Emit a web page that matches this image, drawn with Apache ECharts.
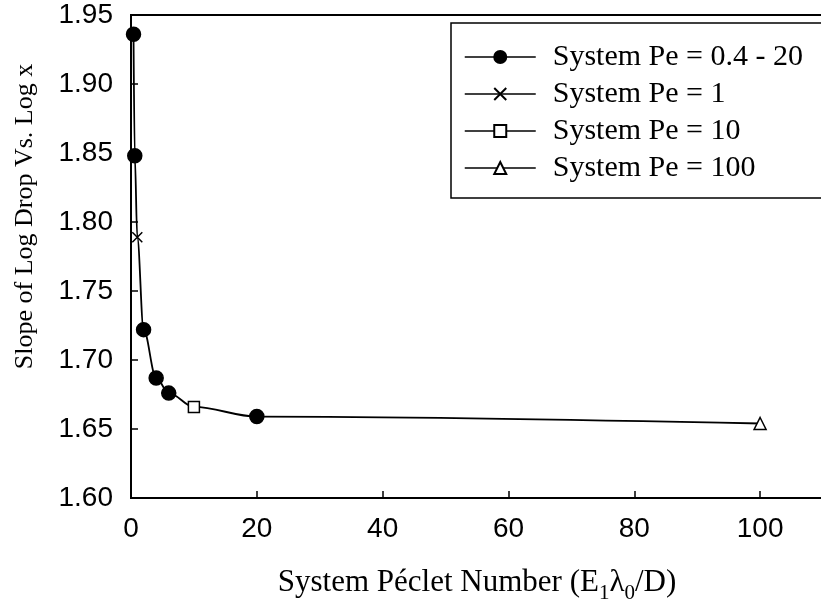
<!DOCTYPE html>
<html>
<head>
<meta charset="utf-8">
<title>Slope vs System Péclet Number</title>
<script src="https://cdn.jsdelivr.net/npm/echarts@6/dist/echarts.min.js"></script>
<style>
  html, body { margin: 0; padding: 0; background: #fff; overflow: hidden; }
  /* canvas runs past the window edge so the plot frame and legend box open to the right */
  #chart { width: 900px; height: 609px; }
</style>
</head>
<body>
<div id="chart"></div>
<script>
// Measured slopes, grouped by the run they came from: [Péclet number, slope]
const peRange = [[0.4, 1.936], [0.6, 1.848], [2, 1.722], [4, 1.687], [6, 1.676], [20, 1.659]];
const peOne = [[1, 1.789]];
const peTen = [[10, 1.666]];
const peHundred = [[100, 1.654]];

const seriesNames = ['System Pe = 0.4 - 20', 'System Pe = 1', 'System Pe = 10', 'System Pe = 100'];
const yTicks = [1.60, 1.65, 1.70, 1.75, 1.80, 1.85, 1.90, 1.95];
const xTicks = [0, 20, 40, 60, 80, 100];

// Fitted curve through every point, ordered by Péclet number
const curve = [].concat(peRange, peOne, peTen, peHundred).sort((a, b) => a[0] - b[0]);

const SERIF = '"Liberation Serif", "Times New Roman", serif';
const SANS = '"Liberation Sans", Arial, sans-serif';

function markerSeries(name, data, symbol, size, fill) {
  return {
    name: name,
    type: 'line',
    data: data,
    symbol: symbol,
    symbolSize: size,
    showSymbol: true,
    lineStyle: { width: 0, opacity: 0 },
    itemStyle: { color: fill, borderColor: '#000', borderWidth: 1.5 },
    emphasis: { disabled: true },
    z: 5
  };
}

const chart = echarts.init(document.getElementById('chart'), null, { renderer: 'canvas' });
chart.setOption({
  animation: false,
  backgroundColor: '#fff',
  grid: {
    left: 131, top: 15, width: 692, height: 484,
    show: true, borderColor: '#000', borderWidth: 2, backgroundColor: 'transparent'
  },
  legend: {
    data: seriesNames,
    orient: 'vertical',
    left: 451, top: 23,
    padding: [19, 40, 15, 13],
    itemGap: 7,
    itemWidth: 71,
    itemHeight: 15,
    borderColor: '#000',
    borderWidth: 1.5,
    backgroundColor: '#fff',
    lineStyle: { color: '#000', width: 1.5, opacity: 1 },
    textStyle: { fontFamily: SERIF, fontSize: 30, color: '#000', padding: [0, 0, 0, 12], lineHeight: 30 }
  },
  xAxis: {
    type: 'value',
    min: 0, max: 110, interval: 20,
    name: '{a|System Péclet Number (E}{s|1}{a|λ}{s|0}{a|/D)}',
    nameLocation: 'middle',
    nameGap: 74,
    nameTextStyle: {
      rich: {
        a: { fontFamily: SERIF, fontSize: 31, color: '#000', verticalAlign: 'bottom', padding: [0, 0, 6, 0], lineHeight: 32 },
        s: { fontFamily: SERIF, fontSize: 21, color: '#000', verticalAlign: 'bottom', lineHeight: 22 }
      }
    },
    axisLine: { lineStyle: { color: '#000', width: 2 } },
    axisTick: { inside: true, length: 7, lineStyle: { color: '#000', width: 1.5 } },
    axisLabel: {
      fontFamily: SANS, fontSize: 28, color: '#000', margin: 17,
      formatter: v => (xTicks.indexOf(v) >= 0 ? String(v) : '')
    },
    splitLine: { show: false }
  },
  yAxis: {
    type: 'value',
    min: 1.60, max: 1.95, interval: 0.05,
    name: 'Slope of Log Drop Vs. Log x',
    nameLocation: 'middle',
    nameGap: 93,
    nameTextStyle: { fontFamily: SERIF, fontSize: 26, color: '#000', padding: [0, 0, 0, 80] },
    axisLine: { lineStyle: { color: '#000', width: 2 } },
    axisTick: { inside: true, length: 7, lineStyle: { color: '#000', width: 1.5 } },
    axisLabel: {
      fontFamily: SANS, fontSize: 28, color: '#000', margin: 18,
      formatter: v => {
        const t = yTicks.find(y => Math.abs(y - v) < 1e-6);
        return t === undefined ? '' : t.toFixed(2);
      }
    },
    splitLine: { show: false }
  },
  series: [
    {
      name: 'curve',
      type: 'line',
      data: curve,
      smooth: 0.35,
      smoothMonotone: 'x',
      showSymbol: false,
      symbol: 'none',
      lineStyle: { color: '#000', width: 1.8 },
      emphasis: { disabled: true },
      z: 2
    },
    markerSeries(seriesNames[0], peRange, 'circle', 14, '#000'),
    markerSeries(seriesNames[1], peOne, 'path://M0,0L10,10M10,0L0,10', 10, 'none'),
    markerSeries(seriesNames[2], peTen, 'rect', 11, '#fff'),
    markerSeries(seriesNames[3], peHundred, 'triangle', 12, '#fff')
  ]
});
</script>
</body>
</html>
